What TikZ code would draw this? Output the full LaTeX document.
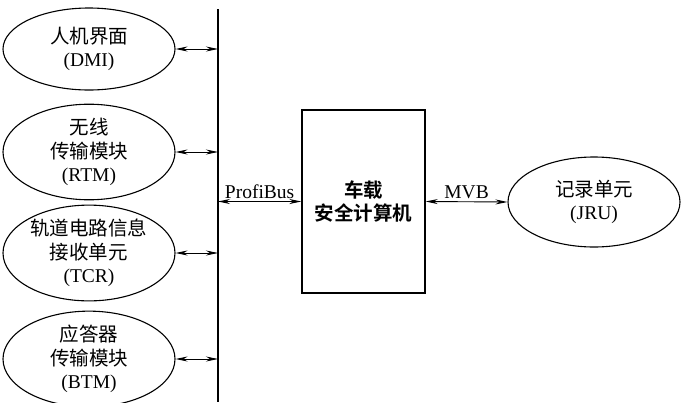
\documentclass[tikz,border=0pt]{standalone}
\usepackage{fontspec}
\setmainfont{Liberation Serif}
\newfontfamily\cjk[BoldFont={* Bold}]{Noto Sans CJK SC}
\usepackage{tikz}
\usetikzlibrary{positioning,arrows.meta,shapes.geometric,calc}

\begin{document}
\begin{tikzpicture}[
  x=1pt, y=-1pt,
  font=\fontsize{19.5}{23.5}\selectfont, >={Stealth[length=12pt,width=5pt]},
  unit/.style={draw, ellipse, line width=1.1pt, align=center, inner sep=0pt,
               minimum width=172pt, minimum height=82pt},
  comp/.style={draw, line width=1.4pt, align=center,
               minimum width=123pt, minimum height=183pt},
  arr/.style={<->, line width=0.9pt},
]
\useasboundingbox (0,0) rectangle (683,402);

% bus line
\coordinate (bustop) at (218,9);
\coordinate (busbot) at (218,402);
\draw[line width=1.1pt] (bustop) -- (busbot);

% units on the ProfiBus
\node[unit] (dmi) at (89,49)  {{\cjk 人机界面}\\(DMI)};
\node[unit] (rtm) at (89,152) {{\cjk 无线}\\{\cjk 传输模块}\\(RTM)};
\node[unit] (tcr) at (89,253) {{\cjk 轨道电路信息}\\{\cjk 接收单元}\\(TCR)};
\node[unit] (btm) at (89,359) {{\cjk 应答器}\\{\cjk 传输模块}\\(BTM)};

% safety computer and JRU
\node[comp] (vc)  at (363.5,201.5) {{\cjk\bfseries 车载}\\{\cjk\bfseries 安全计算机}};
\node[unit, minimum height=90pt] (jru) at (594,202) {{\cjk 记录单元}\\(JRU)};

\foreach \u in {dmi,rtm,tcr,btm}
  \draw[arr] (\u.east) -- (\u.east -| bustop);

\draw[arr] (vc.west -| bustop) -- node[above=-1pt]{ProfiBus} (vc.west);
\draw[arr] (vc.east) -- node[above=-1pt]{MVB} (jru.west);
\end{tikzpicture}
\end{document}
